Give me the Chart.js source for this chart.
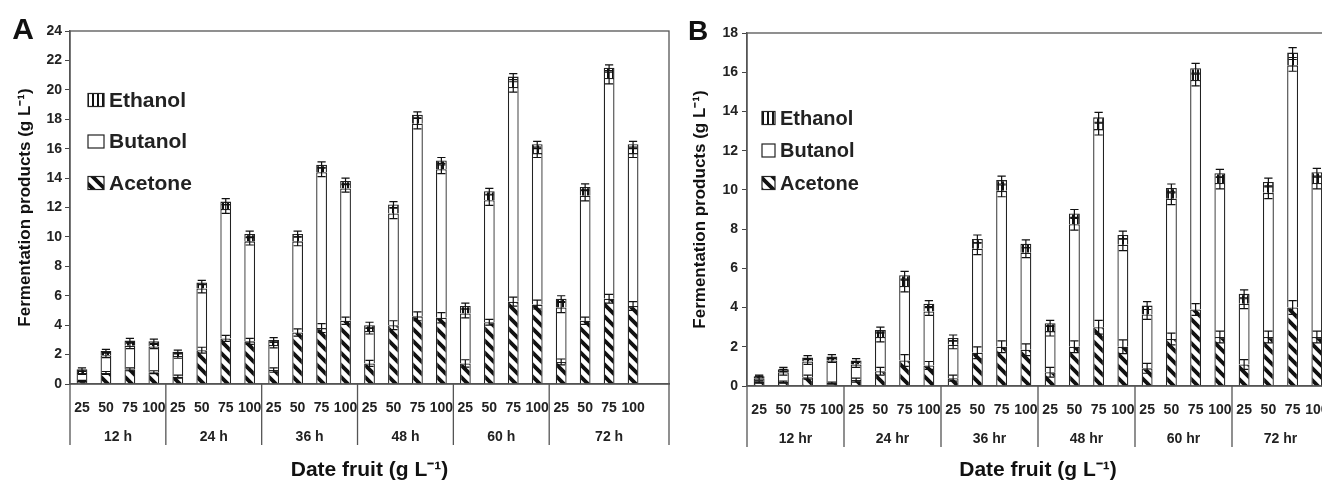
<!DOCTYPE html>
<html>
<head>
<meta charset="utf-8">
<script src="https://cdn.jsdelivr.net/npm/chart.js@4"></script>
<style>
html, body { margin: 0; padding: 0; background: #fff; overflow: hidden; }
#wrap { position: relative; width: 1322px; height: 486px; overflow: hidden; }
.box { position: absolute; top: 0; width: 680px; height: 486px; }
#boxA { left: 0; }
#boxB { left: 680px; }
</style>
</head>
<body>
<div id="wrap">
  <div class="box" id="boxA"><canvas id="chartA" width="680" height="486"></canvas></div>
  <div class="box" id="boxB"><canvas id="chartB" width="680" height="486"></canvas></div>
</div>
<script>
const FONT = '"Liberation Sans", Arial, sans-serif';

// categories
const concentrations = ['25', '50', '75', '100'];
const timesA = ['12 h', '24 h', '36 h', '48 h', '60 h', '72 h'];
const timesB = ['12 hr', '24 hr', '36 hr', '48 hr', '60 hr', '72 hr'];

// Panel A (g/L), 4 concentrations per time
const acetoneA = [0.2, 0.75, 1.0, 0.8,  0.5, 2.3, 3.1, 2.9,  0.95, 3.5, 3.8, 4.3,  1.4, 4.0, 4.6, 4.5,  1.4, 4.2, 5.6, 5.4,  1.5, 4.3, 5.8, 5.3];
const butanolA = [0.55, 1.2, 1.6, 1.75,  1.4, 4.2, 8.8, 6.8,  1.7, 6.2, 10.6, 9.0,  2.2, 7.6, 13.1, 10.1,  3.4, 8.3, 14.6, 10.3,  3.7, 8.5, 15.0, 10.4];
const ethanolA = [0.25, 0.3, 0.35, 0.35,  0.3, 0.4, 0.5, 0.5,  0.35, 0.5, 0.5, 0.5,  0.4, 0.6, 0.6, 0.6,  0.5, 0.6, 0.7, 0.6,  0.6, 0.6, 0.7, 0.6];
const errAcetoneA = [0.05, 0.1, 0.1, 0.1,  0.1, 0.2, 0.2, 0.2,  0.15, 0.25, 0.3, 0.25,  0.2, 0.3, 0.3, 0.35,  0.25, 0.2, 0.3, 0.3,  0.2, 0.25, 0.3, 0.3];
const errButanolA = [0.1, 0.15, 0.2, 0.15,  0.15, 0.3, 0.3, 0.25,  0.2, 0.3, 0.3, 0.25,  0.2, 0.35, 0.35, 0.3,  0.3, 0.35, 0.35, 0.3,  0.35, 0.35, 0.4, 0.3];
const errEthanolA = [0.1, 0.1, 0.15, 0.15,  0.1, 0.15, 0.2, 0.2,  0.15, 0.2, 0.2, 0.2,  0.2, 0.2, 0.2, 0.2,  0.2, 0.2, 0.2, 0.2,  0.2, 0.2, 0.2, 0.2];

// Panel B (g/L)
const acetoneB = [0.2, 0.2, 0.45, 0.15,  0.3, 0.75, 1.3, 1.05,  0.4, 1.7, 2.0, 1.85,  0.7, 2.0, 3.0, 2.0,  0.9, 2.4, 3.9, 2.5,  1.1, 2.5, 4.0, 2.5];
const butanolB = [0.2, 0.5, 0.8, 1.15,  0.8, 1.75, 3.8, 2.75,  1.7, 5.3, 7.95, 4.95,  2.1, 6.25, 10.1, 5.2,  2.75, 7.15, 11.7, 7.85,  3.1, 7.35, 12.35, 7.85];
const ethanolB = [0.1, 0.15, 0.2, 0.2,  0.2, 0.35, 0.55, 0.4,  0.35, 0.5, 0.55, 0.45,  0.4, 0.55, 0.6, 0.5,  0.45, 0.55, 0.6, 0.5,  0.5, 0.55, 0.65, 0.55];
const errAcetoneB = [0.05, 0.05, 0.1, 0.05,  0.1, 0.2, 0.3, 0.2,  0.15, 0.3, 0.3, 0.3,  0.25, 0.3, 0.35, 0.35,  0.25, 0.3, 0.3, 0.3,  0.25, 0.3, 0.35, 0.3];
const errButanolB = [0.1, 0.15, 0.15, 0.1,  0.15, 0.25, 0.3, 0.2,  0.2, 0.3, 0.3, 0.25,  0.25, 0.3, 0.3, 0.3,  0.25, 0.3, 0.3, 0.3,  0.25, 0.3, 0.3, 0.3];
const errEthanolB = [0.05, 0.1, 0.1, 0.1,  0.1, 0.15, 0.2, 0.15,  0.15, 0.2, 0.2, 0.2,  0.15, 0.2, 0.25, 0.2,  0.2, 0.2, 0.25, 0.2,  0.2, 0.2, 0.25, 0.2];

// tick labels: every group repeats the concentrations
const labelsA = timesA.flatMap(() => concentrations).concat(['']); // A has an empty slot at the end
const labelsB = timesB.flatMap(() => concentrations);

// patterns
function hatch() {
  const c = document.createElement('canvas');
  c.width = 12; c.height = 12;
  const g = c.getContext('2d');
  g.fillStyle = '#fff'; g.fillRect(0, 0, 12, 12);
  g.strokeStyle = '#111'; g.lineWidth = 3.8;
  g.beginPath();
  g.moveTo(-3, -3); g.lineTo(15, 15);
  g.moveTo(-3, 9); g.lineTo(3, 15);
  g.moveTo(9, -3); g.lineTo(15, 3);
  g.stroke();
  return g.createPattern(c, 'repeat');
}
function vstripes() {
  const c = document.createElement('canvas');
  c.width = 5; c.height = 5;
  const g = c.getContext('2d');
  g.fillStyle = '#fff'; g.fillRect(0, 0, 5, 5);
  g.fillStyle = '#111'; g.fillRect(2, 0, 2, 5);
  return g.createPattern(c, 'repeat');
}
const acetoneFill = hatch();
const ethanolFill = vstripes();

// error bars on top of every segment
const errorBars = {
  id: 'errorBars',
  afterDatasetsDraw(chart) {
    const ctx = chart.ctx, y = chart.scales.y;
    const unit = Math.abs(y.getPixelForValue(1) - y.getPixelForValue(0));
    ctx.save();
    ctx.strokeStyle = '#111';
    ctx.lineWidth = 1.2;
    chart.data.datasets.forEach((ds, i) => {
      chart.getDatasetMeta(i).data.forEach((bar, j) => {
        const e = ds.errors[j];
        if (!e) return;
        const h = e * unit, w = bar.width * 0.38;
        ctx.beginPath();
        ctx.moveTo(bar.x, bar.y - h); ctx.lineTo(bar.x, bar.y + h);
        ctx.moveTo(bar.x - w, bar.y - h); ctx.lineTo(bar.x + w, bar.y - h);
        ctx.moveTo(bar.x - w, bar.y + h); ctx.lineTo(bar.x + w, bar.y + h);
        ctx.stroke();
      });
    });
    ctx.restore();
  }
};

// frame, time groups under the axis, legend and panel letter
const decor = {
  id: 'decor',
  afterDraw(chart, args, o) {
    const ctx = chart.ctx, a = chart.chartArea, x = chart.scales.x;
    const cw = x.getPixelForValue(1) - x.getPixelForValue(0);
    ctx.save();
    ctx.strokeStyle = '#555';
    ctx.lineWidth = 1.3;
    ctx.strokeRect(a.left, a.top, a.right - a.left, a.bottom - a.top);

    // groups
    ctx.fillStyle = '#222';
    ctx.font = 'bold 14px ' + FONT;
    ctx.textAlign = 'center';
    ctx.textBaseline = 'middle';
    ctx.beginPath();
    o.groups.forEach((g, k) => {
      const x0 = x.getPixelForValue(k * 4) - cw / 2;
      const x1 = k === o.groups.length - 1 ? a.right : x.getPixelForValue(k * 4 + 3) + cw / 2;
      ctx.moveTo(x0, a.bottom); ctx.lineTo(x0, a.bottom + 61);
      if (k === o.groups.length - 1) { ctx.moveTo(x1, a.bottom); ctx.lineTo(x1, a.bottom + 61); }
      ctx.fillText(g, (x0 + x1) / 2, a.bottom + 53);
    });
    ctx.stroke();

    // legend (top to bottom: last dataset first)
    const L = o.legend;
    ctx.textAlign = 'left';
    ctx.font = 'bold ' + L.size + 'px ' + FONT;
    ctx.lineWidth = 1.2;
    ctx.strokeStyle = '#222';
    chart.data.datasets.slice().reverse().forEach((ds, k) => {
      const cy = a.top + L.y + k * L.gap;
      const bx = a.left + L.x;
      ctx.fillStyle = ds.backgroundColor;
      ctx.fillRect(bx, cy - L.h / 2, L.w, L.h);
      ctx.strokeRect(bx, cy - L.h / 2, L.w, L.h);
      ctx.fillStyle = '#222';
      ctx.fillText(ds.label, bx + L.w + 5, cy + 1);
    });

    // panel letter
    ctx.font = 'bold ' + o.letter.size + 'px ' + FONT;
    ctx.fillStyle = '#111';
    ctx.textAlign = 'center';
    ctx.fillText(o.letter.text, o.letter.x, o.letter.y);
    ctx.restore();
  }
};

function makeChart(id, p) {
  return new Chart(document.getElementById(id), {
    type: 'bar',
    data: {
      labels: p.labels,
      datasets: [
        { label: 'Acetone', data: p.acetone, errors: p.errAcetone, backgroundColor: acetoneFill },
        { label: 'Butanol', data: p.butanol, errors: p.errButanol, backgroundColor: '#fff' },
        { label: 'Ethanol', data: p.ethanol, errors: p.errEthanol, backgroundColor: ethanolFill }
      ].map(d => Object.assign(d, {
        borderColor: '#222', borderWidth: 1.3, barPercentage: 0.9, categoryPercentage: 0.5
      }))
    },
    options: {
      responsive: false,
      animation: false,
      layout: { padding: p.padding },
      scales: {
        x: {
          stacked: true,
          grid: { display: false, drawTicks: false },
          border: { display: true, color: '#555', width: 1.4 },
          ticks: {
            autoSkip: false, maxRotation: 0, padding: 16, color: '#222',
            font: { family: FONT, size: 14, weight: 'bold' }
          },
          title: {
            display: true, text: 'Date fruit (g L⁻¹)', color: '#111',
            font: { family: FONT, size: 21, weight: 'bold' },
            padding: { top: 0, bottom: 3 }
          },
          afterFit: s => { s.height = p.xHeight; }
        },
        y: {
          stacked: true,
          min: 0, max: p.max,
          grid: { display: true, drawOnChartArea: false, drawTicks: true, tickLength: 5, color: '#444' },
          border: { display: true, color: '#555', width: 1.4 },
          ticks: {
            stepSize: 2, padding: p.tickPad, color: '#222',
            font: { family: FONT, size: 14, weight: 'bold' }
          },
          title: {
            display: true, text: 'Fermentation products (g L⁻¹)', color: '#111',
            font: { family: FONT, size: 17, weight: 'bold' },
            padding: { top: p.yTitlePad, bottom: 0 }
          },
          afterFit: s => { s.width = p.yWidth; }
        }
      },
      plugins: {
        legend: { display: false },
        tooltip: { enabled: false },
        decor: { groups: p.groups, legend: p.legend, letter: p.letter }
      }
    },
    plugins: [errorBars, decor]
  });
}

makeChart('chartA', {
  labels: labelsA, groups: timesA, max: 24,
  acetone: acetoneA, butanol: butanolA, ethanol: ethanolA,
  errAcetone: errAcetoneA, errButanol: errButanolA, errEthanol: errEthanolA,
  padding: { top: 31, right: 11, left: 0, bottom: 0 },
  xHeight: 102, yWidth: 70, tickPad: 3, yTitlePad: 15,
  legend: { x: 18, y: 69, gap: 41.5, size: 21, w: 16, h: 13 },
  letter: { text: 'A', x: 23, y: 31, size: 30 }
});

makeChart('chartB', {
  labels: labelsB, groups: timesB, max: 18,
  acetone: acetoneB, butanol: butanolB, ethanol: ethanolB,
  errAcetone: errAcetoneB, errButanol: errButanolB, errEthanol: errEthanolB,
  padding: { top: 33, right: 31, left: 0, bottom: 0 },
  xHeight: 100, yWidth: 67, tickPad: 4, yTitlePad: 10,
  legend: { x: 15, y: 85, gap: 32.5, size: 20, w: 13, h: 13 },
  letter: { text: 'B', x: 18, y: 32, size: 28 }
});
</script>
</body>
</html>
